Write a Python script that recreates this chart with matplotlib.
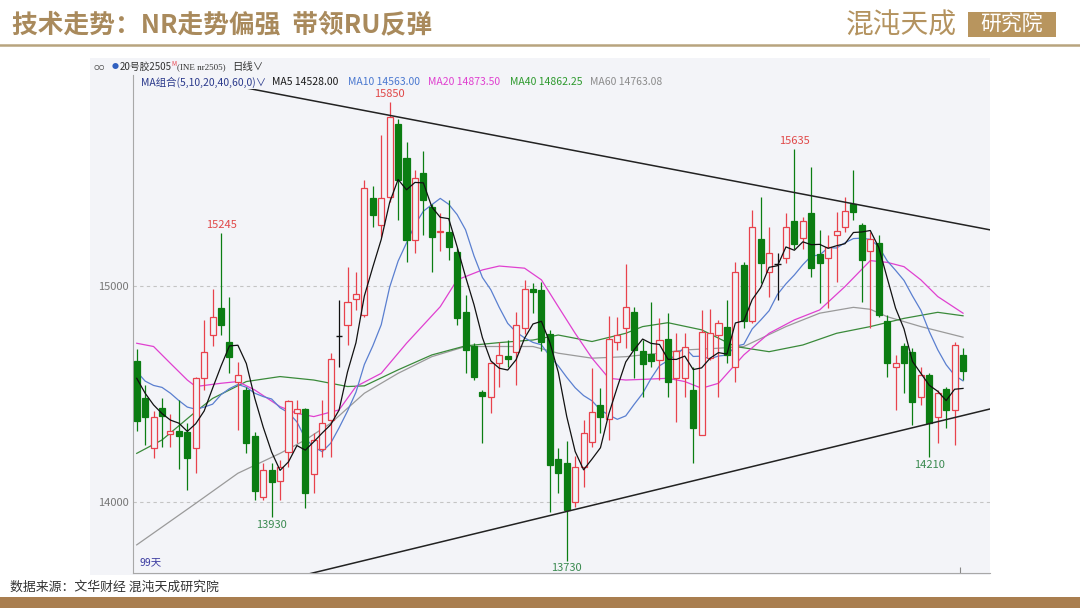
import matplotlib
matplotlib.use('Agg')
import matplotlib.pyplot as plt
from matplotlib.patches import Rectangle
import numpy as np
import pandas as pd

plt.rcParams['font.family'] = ['Noto Sans CJK SC', 'DejaVu Sans']

# daily OHLC of NR2505, 99 sessions
opens = [14653, 14480, 14250, 14435, 14316, 14330, 14327, 14250, 14573, 14773,
         14898, 14741, 14558, 14519, 14308, 14023, 14150, 14100, 14231, 14411,
         14430, 14130, 14245, 14380, 14769, 14820, 14938, 14866, 15408, 15282,
         15413, 15749, 15590, 15213, 15524, 15364, 15248, 15251, 15159, 14878,
         14720, 14508, 14488, 14646, 14677, 14696, 14807, 14985, 14980, 14777,
         14199, 14183, 14003, 14165, 14280, 14450, 14384, 14740, 14804, 14881,
         14700, 14686, 14658, 14754, 14573, 14573, 14519, 14311, 14666, 14773,
         14812, 14627, 15097, 14840, 15216, 15066, 15100, 15128, 15302, 15220,
         15339, 15148, 15128, 15236, 15271, 15380, 15282, 15162, 15200, 14838,
         14627, 14723, 14693, 14488, 14589, 14396, 14522, 14427, 14681]
highs = [14710, 14540, 14420, 14480, 14410, 14473, 14365, 14580, 14843, 14985,
         15245, 14950, 14650, 14535, 14327, 14180, 14180, 14196, 14475, 14473,
         14435, 14319, 14473, 14690, 14935, 15089, 15066, 15490, 15462, 15698,
         15850, 15770, 15667, 15536, 15626, 15380, 15336, 15398, 15174, 14958,
         14735, 14519, 14650, 14743, 14750, 14880, 15028, 15012, 15020, 14797,
         14250, 14283, 14215, 14380, 14620, 14527, 14861, 14858, 15100, 14904,
         14750, 14928, 14850, 14873, 14784, 14781, 14627, 14889, 14892, 14843,
         14935, 15112, 15109, 15351, 15413, 15274, 15150, 15339, 15635, 15320,
         15552, 15259, 15236, 15344, 15413, 15536, 15290, 15250, 15236, 14866,
         14681, 14738, 14712, 14627, 14596, 14519, 14535, 14743, 14712]
lows = [14330, 14265, 14203, 14257, 14257, 14152, 14057, 14134, 14520, 14720,
        14773, 14596, 14334, 14227, 14011, 14011, 13930, 14011, 14165, 14273,
        13972, 14042, 14211, 14211, 14627, 14727, 14889, 14858, 15274, 15228,
        15390, 15305, 15112, 15151, 15236, 15066, 15160, 15120, 14820, 14596,
        14565, 14273, 14411, 14535, 14627, 14542, 14780, 14874, 14697, 13954,
        14042, 13730, 13980, 14072, 14257, 14319, 14288, 14704, 14712, 14573,
        14488, 14627, 14565, 14488, 14373, 14488, 14180, 14311, 14658, 14488,
        14643, 14558, 14804, 14830, 15012, 14951, 14935, 15105, 15170, 15170,
        15043, 14920, 14897, 15020, 15250, 15305, 14928, 14804, 14858, 14580,
        14427, 14504, 14357, 14450, 14210, 14273, 14342, 14265, 14565]
closes = [14377, 14396, 14396, 14400, 14330, 14306, 14206, 14573, 14695, 14855,
          14818, 14673, 14588, 14273, 14054, 14150, 14095, 14165, 14470, 14430,
          14045, 14288, 14368, 14661, 14769, 14926, 14961, 15451, 15328, 15408,
          15783, 15490, 15213, 15498, 15398, 15225, 15252, 15182, 14850, 14704,
          14580, 14490, 14643, 14681, 14662, 14820, 14986, 14972, 14742, 14170,
          14135, 13964, 14162, 14319, 14419, 14396, 14753, 14774, 14901, 14704,
          14640, 14653, 14750, 14558, 14700, 14717, 14342, 14789, 14781, 14830,
          14681, 15063, 14840, 15271, 15105, 15151, 15100, 15274, 15194, 15300,
          15085, 15108, 15182, 15254, 15347, 15344, 15120, 15216, 14866, 14642,
          14642, 14642, 14465, 14589, 14365, 14504, 14427, 14727, 14608]

# MA5 / MA10 values on the first sessions (their window reaches before the chart)
ma5_head = [14573, 14504, 14450, 14410]
ma10_head = [14604, 14560, 14540, 14531, 14504, 14470, 14440, 14430, 14440]

# longer moving averages at sample sessions
ma20_idx = [0, 2, 4, 6, 7, 10, 12, 14, 17, 19, 21, 24, 26, 29, 32, 36, 38, 41, 43, 46, 48,
            50, 52, 54, 56, 58, 60, 63, 65, 67, 69, 72, 75, 78, 81, 84, 87, 89, 91, 93, 95, 98]
ma20_val = [14735, 14720, 14642, 14565, 14535, 14550, 14558, 14519, 14442, 14411, 14396,
            14427, 14535, 14596, 14735, 14904, 15028, 15074, 15092, 15082, 15028,
            14904, 14781, 14666, 14573, 14565, 14568, 14573, 14558, 14527, 14550,
            14681, 14781, 14843, 14889, 14997, 15117, 15109, 15089, 15028, 14951, 14874]
ma40_idx = [0, 3, 7, 9, 13, 17, 21, 25, 27, 31, 35, 39, 43, 47, 50, 54, 58, 60, 63, 67,
            71, 75, 79, 83, 87, 91, 95, 98]
ma40_val = [14226, 14288, 14419, 14480, 14558, 14581, 14565, 14535, 14538, 14612, 14681,
            14723, 14738, 14750, 14773, 14743, 14781, 14812, 14830, 14797, 14720, 14696,
            14727, 14781, 14812, 14850, 14878, 14862]
ma60_idx = [0, 7, 12, 17, 20, 23, 27, 31, 35, 39, 43, 47, 50, 54, 58, 62, 65, 69, 72, 77,
            81, 85, 87, 89, 93, 98]
ma60_val = [13803, 13995, 14134, 14226, 14288, 14365, 14504, 14596, 14673, 14720, 14720,
            14720, 14689, 14666, 14673, 14689, 14704, 14712, 14720, 14812, 14874, 14901,
            14892, 14858, 14812, 14763]

peak_labels = [(30, '15850'), (10, '15245'), (78, '15635')]
trough_labels = [(16, '13930'), (51, '13730'), (94, '14210')]

# triangle trend lines (session, price)
upper_line = ([11.5, 101.5], [15926, 15257])
lower_line = ([18.0, 101.5], [13646, 14434])

legend_items = [('MA5 14528.00', '#1a1a1a', 272), ('MA10 14563.00', '#4a78d0', 348),
                ('MA20 14873.50', '#e040d0', 428), ('MA40 14862.25', '#2e9a2e', 510),
                ('MA60 14763.08', '#8c8c8c', 590)]

RED = '#e8424c'
GREEN = '#0b7d12'
PANEL = '#f3f4f8'
GOLD = '#a98a5c'

W, H = 1080, 608
fig = plt.figure(figsize=(W / 100, H / 100), dpi=100)
fig.patch.set_facecolor('white')


def fx(px):
    return px / W


def fy(py):
    return 1 - py / H


# header
fig.text(fx(12), fy(25), '技术走势：NR走势偏强  带领RU反弹', fontsize=18.5,
         color=GOLD, fontweight='bold', va='center', ha='left')
fig.add_artist(plt.Line2D([0, 1], [fy(45), fy(45)], color='#b8a47e', lw=1.8))
fig.text(fx(846), fy(25), '混沌天成', fontsize=20, color='#b4935f', va='center',
         ha='left', fontweight='light')
fig.add_artist(Rectangle((fx(968), fy(37)), fx(88), fy(12) - fy(37),
                         facecolor='#b8955e', edgecolor='none'))
fig.text(fx(1012), fy(25), '研究院', fontsize=15, color='white', va='center', ha='center',
         fontweight='light')

# footer
fig.text(fx(10), fy(587), '数据来源：文华财经 混沌天成研究院', fontsize=9.3,
         color='#333333', va='center', ha='left')
fig.add_artist(Rectangle((0, 0), 1, fy(597), facecolor='#a97e4f', edgecolor='none'))

# chart panel (behind the axes)
panel = Rectangle((fx(90), fy(575)), fx(900), fy(58) - fy(575),
                  facecolor=PANEL, edgecolor='none', zorder=-10)
fig.add_artist(panel)
fig.text(fx(93), fy(67), 'ᴑᴑ', fontsize=6, color='#555555', va='center')
fig.text(fx(112), fy(67), '●', fontsize=5, color='#3060c0', va='center')
fig.text(fx(120), fy(67), '20号胶2505', fontsize=7, color='#333333', va='center')
fig.text(fx(171), fy(64), 'M', fontsize=4.5, color=RED, va='center')
fig.text(fx(177), fy(67), '(INE nr2505)', fontsize=6.5, color='#333333', va='center',
         family='Liberation Serif')
fig.text(fx(232), fy(67), '日线∨', fontsize=7.5, color='#333333', va='center')

ax = fig.add_axes([fx(133), fy(573), fx(857), fy(75) - fy(573)])
ax.set_facecolor(PANEL)
ax.set_xlim(-0.44, 101.2)
ax.set_ylim(13673, 15975)

for y in (14000, 15000):
    ax.axhline(y, color='#c4c4c4', lw=0.8, ls=(0, (3, 3)), zorder=0)

# moving averages
close_s = pd.Series(closes)
x = np.arange(len(closes))
ma5 = close_s.rolling(5).mean()
ma5.iloc[:len(ma5_head)] = ma5_head
ma10 = close_s.rolling(10).mean()
ma10.iloc[:len(ma10_head)] = ma10_head

ax.plot(ma60_idx, ma60_val, color='#9a9a9a', lw=0.9, zorder=2)
ax.plot(ma40_idx, ma40_val, color='#3a8a3a', lw=0.9, zorder=2)
ax.plot(ma20_idx, ma20_val, color='#e040d0', lw=0.9, zorder=2)
ax.plot(x, ma10, color='#5a7fd0', lw=0.9, zorder=2)

# candles
bw = 0.72
for i in range(len(closes)):
    o, h, l, c = opens[i], highs[i], lows[i], closes[i]
    if abs(c - o) < 1:
        col = '#111111'
    elif c > o:
        col = RED
    else:
        col = GREEN
    ax.vlines(i, l, h, color=col, lw=0.9, zorder=3)
    if col == '#111111':
        ax.hlines(o, i - bw / 2, i + bw / 2, color=col, lw=1.0, zorder=4)
    elif c > o:
        ax.add_patch(Rectangle((i - bw / 2, o), bw, c - o, facecolor=PANEL,
                               edgecolor=col, lw=0.9, zorder=4))
    else:
        ax.add_patch(Rectangle((i - bw / 2, c), bw, o - c, facecolor=col,
                               edgecolor=col, lw=0.9, zorder=4))

ax.plot(x, ma5, color='#111111', lw=0.9, zorder=5)

ax.plot(*upper_line, color='#222222', lw=1.1, zorder=6)
ax.plot(*lower_line, color='#222222', lw=1.1, zorder=6)

for i, t in peak_labels:
    ax.annotate(t, (i, highs[i]), xytext=(0, 2), textcoords='offset points',
                ha='center', va='bottom', fontsize=8, color='#e04848', zorder=7)
for i, t in trough_labels:
    ax.annotate(t, (i, lows[i]), xytext=(0, -2), textcoords='offset points',
                ha='center', va='top', fontsize=8, color='#3a8a50', zorder=7)

ax.set_yticks([14000, 15000])
ax.set_yticklabels(['14000', '15000'])
ax.tick_params(axis='y', length=0, labelsize=8, labelcolor='#777777', pad=3)
ax.set_xticks([])
for s in ('top', 'right'):
    ax.spines[s].set_visible(False)
ax.spines['left'].set_color('#a8a8a8')
ax.spines['bottom'].set_color('#a8a8a8')
ax.vlines(97.7, 13673, 13700, color='#888888', lw=0.8, zorder=6)

ax.text(0.3, 13700, '99天', fontsize=7.5, color='#3a3aa0', va='bottom', ha='left', zorder=7)

# MA legend row
lg_y = 13673 + (573 - 82) / (573 - 75) * (15975 - 13673)
ax.text(0.45, lg_y, 'MA组合(5,10,20,40,60,0)∨', fontsize=7.5, color='#2b3a8c',
        va='center', ha='left', zorder=8,
        bbox=dict(facecolor=PANEL, edgecolor='none', pad=1))
for label, colr, px in legend_items:
    fig.text(fx(px), fy(82), label, fontsize=7.5, color=colr, va='center', ha='left')

fig.savefig('out.png', dpi=100, facecolor='white')
